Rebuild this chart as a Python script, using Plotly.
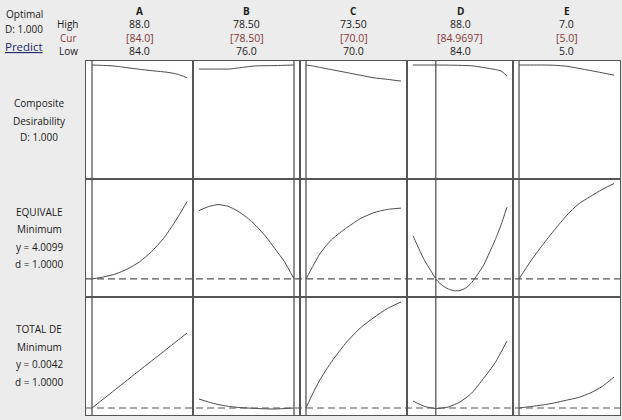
import plotly.graph_objects as go
from plotly.subplots import make_subplots

# ---------------- data ----------------
factors = ["A", "B", "C", "D", "E"]
high_vals = ["88.0", "78.50", "73.50", "88.0", "7.0"]
cur_labels = ["[84.0]", "[78.50]", "[70.0]", "[84.9697]", "[5.0]"]
low_vals = ["84.0", "76.0", "70.0", "84.0", "5.0"]
low_num = [84.0, 76.0, 70.0, 84.0, 5.0]
high_num = [88.0, 78.5, 73.5, 88.0, 7.0]
current = [84.0, 78.5, 70.0, 84.9697, 5.0]

equiv_y = 4.0099
total_y = 0.0042

# Composite desirability row
A_x1 = [84.0, 84.4, 84.8, 85.2, 85.6, 86.0, 86.4, 86.8, 87.2, 87.6, 88.0]
A_d = [1.0, 0.997, 0.993, 0.984, 0.972, 0.961, 0.951, 0.942, 0.933, 0.916, 0.884]
B_x1 = [76.0, 76.5, 76.8, 77.0, 77.3, 77.5, 78.0, 78.5]
B_d = [0.963, 0.963, 0.963, 0.972, 0.985, 0.992, 0.995, 1.0]
C_x1 = [70.0, 70.25, 70.5, 71.0, 71.5, 72.0, 72.5, 73.0, 73.5]
C_d = [1.0, 0.991, 0.979, 0.955, 0.931, 0.907, 0.883, 0.869, 0.853]
D_x1 = [84.0, 84.5, 85.0, 85.5, 86.0, 86.5, 87.0, 87.5, 87.75, 88.0]
D_d = [1.0, 1.0, 1.0, 0.999, 0.997, 0.993, 0.977, 0.959, 0.945, 0.899]
E_x1 = [5.0, 5.25, 5.5, 5.75, 6.0, 6.25, 6.5, 6.75, 7.0]
E_d = [1.0, 1.0, 1.0, 0.998, 0.989, 0.970, 0.950, 0.929, 0.908]

# EQUIVALE row
A_x2 = [84.0, 84.5, 85.0, 85.5, 86.0, 86.5, 87.0, 87.5, 88.0]
A_eq = [4.010, 4.070, 4.160, 4.310, 4.520, 4.820, 5.210, 5.720, 6.320]
B_x2 = [76.0, 76.25, 76.5, 76.75, 77.0, 77.25, 77.5, 77.75, 78.0, 78.25, 78.5]
B_eq = [6.05, 6.17, 6.23, 6.185, 6.05, 5.855, 5.60, 5.285, 4.91, 4.52, 4.0099]
C_x2 = [70.0, 70.25, 70.5, 70.75, 71.0, 71.5, 72.0, 72.5, 73.0, 73.5]
C_eq = [4.0099, 4.385, 4.745, 5.015, 5.225, 5.54, 5.81, 5.99, 6.086, 6.125]
D_x2 = [84.0, 84.25, 84.5, 84.75, 85.0, 85.25, 85.5, 85.75, 86.0, 86.25, 86.5,
        86.75, 87.0, 87.25, 87.5, 87.75, 88.0]
D_eq = [5.30, 4.91, 4.55, 4.265, 3.98, 3.815, 3.71, 3.656, 3.665, 3.74, 3.905,
        4.145, 4.415, 4.79, 5.18, 5.63, 6.155]
E_x2 = [5.0, 5.25, 5.5, 5.75, 6.0, 6.25, 6.5, 6.75, 7.0]
E_eq = [4.0099, 4.55, 5.03, 5.48, 5.90, 6.245, 6.47, 6.68, 6.86]

# TOTAL DE row
A_x3 = [84.0, 85.0, 86.0, 87.0, 88.0]
A_td = [0.0042, 0.0136, 0.0230, 0.0323, 0.0417]
B_x3 = [76.0, 76.25, 76.5, 76.75, 77.0, 77.5, 78.0, 78.5]
B_td = [0.0087, 0.0072, 0.00595, 0.0051, 0.00455, 0.00395, 0.0037, 0.0042]
C_x3 = [70.0, 70.25, 70.5, 70.75, 71.0, 71.5, 72.0, 72.5, 73.0, 73.5]
C_td = [0.0042, 0.01145, 0.01795, 0.02345, 0.02845, 0.0372, 0.0442, 0.04945, 0.05395, 0.0572]
D_x3 = [84.0, 84.5, 85.0, 85.5, 86.0, 86.5, 87.0, 87.5, 88.0]
D_td = [0.0077, 0.00495, 0.00395, 0.0047, 0.0072, 0.0117, 0.01895, 0.02695, 0.0377]
E_x3 = [5.0, 5.25, 5.5, 5.75, 6.0, 6.25, 6.5, 6.75, 7.0]
E_td = [0.0042, 0.00495, 0.0057, 0.0068, 0.0081, 0.00945, 0.0117, 0.01495, 0.0197]

rows_data = [
    [(A_x1, A_d), (B_x1, B_d), (C_x1, C_d), (D_x1, D_d), (E_x1, E_d)],
    [(A_x2, A_eq), (B_x2, B_eq), (C_x2, C_eq), (D_x2, D_eq), (E_x2, E_eq)],
    [(A_x3, A_td), (B_x3, B_td), (C_x3, C_td), (D_x3, D_td), (E_x3, E_td)],
]

# ---------------- layout geometry ----------------
W, H = 622, 420
col_px = [86, 193, 300, 407, 513, 620]
row_px = [61, 178.5, 297, 415]
row_ranges = [[-0.0367, 1.0367], [3.4699, 7.0099], [0.0007, 0.0597]]

FONT = "Open Sans"
LINE = "#4a4a4a"
BORDER = "#555555"
TXT = "#1a1a1a"

fig = make_subplots(rows=3, cols=5, horizontal_spacing=0, vertical_spacing=0)

for r in range(3):
    for c in range(5):
        xs, ys = rows_data[r][c]
        fig.add_trace(go.Scatter(x=xs, y=ys, mode="lines",
                                 line=dict(color=LINE, width=1, shape="spline", smoothing=0.6),
                                 showlegend=False, hoverinfo="skip"),
                      row=r + 1, col=c + 1)
        w = col_px[c + 1] - col_px[c]
        span = high_num[c] - low_num[c]
        pad = 6.0 / (w - 12) * span
        fig.update_xaxes(domain=[col_px[c] / W, col_px[c + 1] / W],
                         range=[low_num[c] - pad, high_num[c] + pad],
                         row=r + 1, col=c + 1)
        fig.update_yaxes(domain=[1 - row_px[r + 1] / H, 1 - row_px[r] / H],
                         range=row_ranges[r], row=r + 1, col=c + 1)

fig.update_xaxes(showticklabels=False, ticks="", showgrid=False, zeroline=False,
                 showline=True, mirror=True, linecolor=BORDER, linewidth=1.4)
fig.update_yaxes(showticklabels=False, ticks="", showgrid=False, zeroline=False,
                 showline=True, mirror=True, linecolor=BORDER, linewidth=1.4)

# current-setting vertical lines
for c in range(5):
    xref = "x" if c == 0 else f"x{c + 1}"
    fig.add_shape(type="line", xref=xref, yref="paper",
                  x0=current[c], x1=current[c],
                  y0=1 - row_px[3] / H, y1=1 - row_px[0] / H,
                  line=dict(color=BORDER, width=1.3))

# dashed response lines
for yref, val in [("y6", equiv_y), ("y11", total_y)]:
    fig.add_shape(type="line", xref="paper", yref=yref,
                  x0=col_px[0] / W, x1=col_px[-1] / W, y0=val, y1=val,
                  line=dict(color="#555555", width=1.2, dash="7px,4px"))

ann = []
def txt(x, y, s, color=TXT, size=10, xanchor="center"):
    ann.append(dict(x=x / W, y=1 - y / H, xref="paper", yref="paper", text=s,
                    showarrow=False, xanchor=xanchor, yanchor="middle",
                    font=dict(family=FONT, size=size, color=color)))

# header
txt(24, 14, "Optimal")
txt(24, 29, "D: 1.000")
txt(24, 46, "<u>Predict</u>", color="#1f2a6b", size=11.5)
txt(67, 24, "High")
txt(68, 38, "Cur", color="#8b3a3a")
txt(68, 51, "Low")
for c in range(5):
    cx = (col_px[c] + col_px[c + 1]) / 2
    txt(cx, 11, f"<b>{factors[c]}</b>")
    txt(cx, 24, high_vals[c], size=10.5)
    txt(cx, 38, cur_labels[c], color="#8b3a3a", size=10.5)
    txt(cx, 51, low_vals[c], size=10.5)

# row labels
txt(39, 103, "Composite")
txt(39, 121, "Desirability")
txt(39, 137, "D: 1.000")
txt(39, 212, "EQUIVALE")
txt(39, 229, "Minimum")
txt(39, 247, "y = 4.0099")
txt(39, 264, "d = 1.0000")
txt(39, 329, "TOTAL DE")
txt(39, 347, "Minimum")
txt(39, 364, "y = 0.0042")
txt(39, 382, "d = 1.0000")

fig.update_layout(width=W, height=H, margin=dict(l=0, r=0, t=0, b=0),
                  paper_bgcolor="#ececec", plot_bgcolor="white",
                  annotations=ann, showlegend=False)

fig.write_html("out.html")
